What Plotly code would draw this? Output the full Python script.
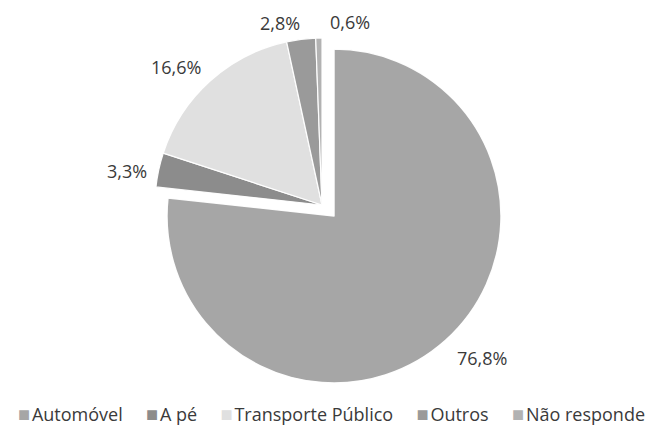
import numpy as np
import plotly.graph_objects as go

labels = ["Automóvel", "A pé", "Transporte Público", "Outros", "Não responde"]
values = [76.8, 3.3, 16.6, 2.8, 0.6]
colors = ["#a6a6a6", "#8c8c8c", "#e0e0e0", "#9a9a9a", "#b2b2b2"]

pct_text = [f"{v:.1f}".replace(".", ",") + "%" for v in values]

W, H = 654, 432
cx, cy, r = 334, 216, 167
dx, dy = -12, -11  # offset of exploded group (pixels)

# label placement style (radius factor and nudges per label)
label_k = [1.25, 1.18, 1.27, 1.12, 1.12]
label_xshift = [9, -2, -4, -19, 32]
label_yshift = [13, -7, -19, -4, -4]

FONT = "Open Sans"
TXT = "#3a3a3a"


def dom(x0, y0):
    return dict(x=[(x0 - r) / W, (x0 + r) / W],
                y=[1 - (y0 + r) / H, 1 - (y0 - r) / H])


transparent = "rgba(0,0,0,0)"
colA = [colors[0]] + [transparent] * 4
colB = [transparent] + colors[1:]

fig = go.Figure()
fig.add_trace(go.Pie(
    labels=labels, values=values, sort=False, direction="clockwise", rotation=0,
    marker=dict(colors=colA, line=dict(color="rgba(255,255,255,0.95)", width=[1.5, 0, 0, 0, 0])),
    textinfo="none", domain=dom(cx, cy), showlegend=False, hoverinfo="skip",
))
fig.add_trace(go.Pie(
    labels=labels, values=values, sort=False, direction="clockwise", rotation=0,
    marker=dict(colors=colB, line=dict(color="rgba(255,255,255,0.95)", width=[0, 1.2, 1.2, 1.2, 1.2])),
    textinfo="none", domain=dom(cx + dx, cy + dy), showlegend=False, hoverinfo="skip",
))

# percentage labels at slice bisectors
vals = np.array(values)
cum = np.cumsum(vals) / vals.sum()
start = np.concatenate([[0], cum[:-1]])
mid = (start + cum) / 2 * 2 * np.pi
annotations = []
for i, (t, a) in enumerate(zip(pct_text, mid)):
    ox, oy = (cx, cy) if i == 0 else (cx + dx, cy + dy)
    px = ox + label_k[i] * r * np.sin(a)
    py = oy - label_k[i] * r * np.cos(a)
    annotations.append(dict(
        x=px / W, y=1 - py / H, xref="paper", yref="paper", text=t, showarrow=False,
        xanchor="center", yanchor="middle", xshift=label_xshift[i], yshift=label_yshift[i],
        font=dict(family=FONT, size=18, color=TXT),
    ))

# legend row
legend_html = "&nbsp;&nbsp;&nbsp;&nbsp;&nbsp;".join(
    f"<span style='color:{c};font-size:20px'>■</span>&#8202;{lab}" for lab, c in zip(labels, colors)
)
annotations.append(dict(
    x=331 / W, y=1 - 413 / H, xref="paper", yref="paper", text=legend_html, showarrow=False,
    xanchor="center", yanchor="middle", font=dict(family=FONT, size=18, color=TXT),
))

fig.update_layout(
    width=W, height=H, margin=dict(l=0, r=0, t=0, b=0),
    paper_bgcolor="white", plot_bgcolor="white",
    showlegend=False, annotations=annotations,
)
fig.write_html("out.html", config={"displayModeBar": False},
               post_script="document.body.style.margin='0';")
